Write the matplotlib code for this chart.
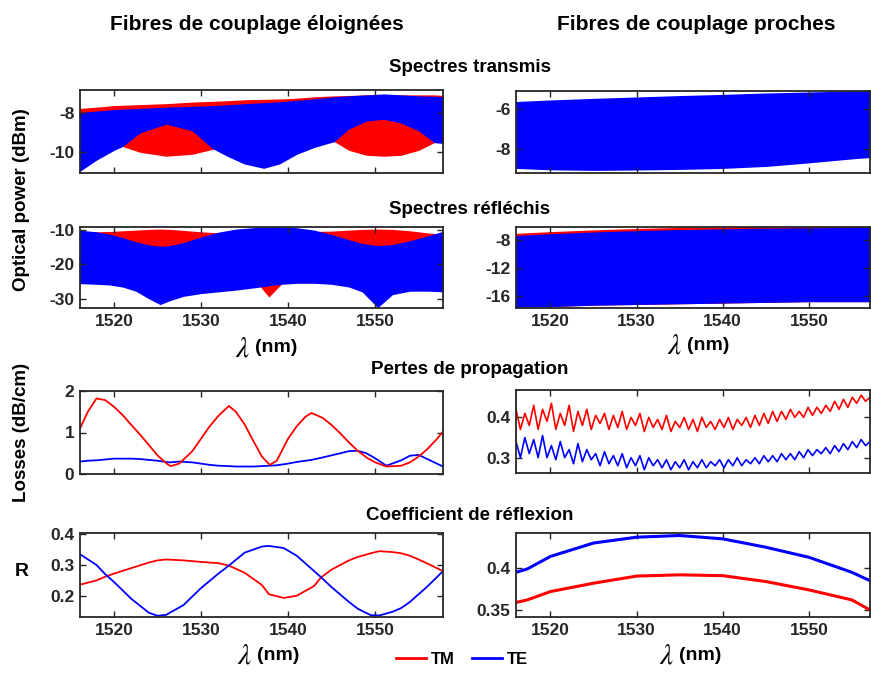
import numpy as np
import matplotlib
matplotlib.use('Agg')
import matplotlib.pyplot as plt
from matplotlib.lines import Line2D
from matplotlib.ticker import FormatStrFormatter

plt.rcParams['font.family'] = ['Liberation Sans', 'DejaVu Sans']
plt.rcParams['mathtext.fontset'] = 'stix'
plt.rcParams['axes.unicode_minus'] = False

RED = '#ff0000'
BLUE = '#0000ff'
DARK = '#262626'

# --- Spectres transmis, fibres eloignees (band envelopes, dBm) ---
wl_tr_far = [1516, 1518, 1520, 1521, 1523, 1526, 1529, 1531.3, 1533, 1535, 1537.2,
             1539, 1541, 1543, 1545.3, 1547, 1549, 1551, 1553, 1555, 1556.8, 1558]
tr_far_tm_hi = [-7.75, -7.68, -7.6, -7.58, -7.55, -7.5, -7.42, -7.38, -7.35, -7.3, -7.28,
                -7.26, -7.22, -7.15, -7.1, -7.08, -7.05, -7.05, -7.05, -7.05, -7.05, -7.08]
tr_far_tm_lo = [-9.6, -9.6, -9.6, -9.7, -10.0, -10.2, -10.1, -9.85, -9.6, -9.6, -9.6,
                -9.6, -9.6, -9.6, -9.45, -9.9, -10.15, -10.2, -10.15, -9.9, -9.5, -9.5]
tr_far_te_hi = [-7.95, -7.88, -7.8, -7.78, -7.74, -7.68, -7.64, -7.6, -7.56, -7.5, -7.45,
                -7.4, -7.33, -7.25, -7.15, -7.1, -7.05, -7.0, -7.05, -7.1, -7.12, -7.15]
tr_far_te_lo = [-11.0, -10.4, -9.9, -9.7, -9.0, -8.55, -8.9, -9.8, -10.2, -10.6, -10.82,
                -10.6, -10.1, -9.75, -9.45, -8.8, -8.4, -8.3, -8.5, -8.9, -9.5, -9.55]

# --- Spectres transmis, fibres proches ---
wl_tr_near = [1516, 1520, 1525, 1530, 1535, 1540, 1545, 1550, 1555, 1557.1]
tr_near_te_hi = [-5.63, -5.55, -5.47, -5.4, -5.33, -5.27, -5.2, -5.15, -5.1, -5.08]
tr_near_te_lo = [-9.0, -9.07, -9.1, -9.08, -9.05, -9.0, -8.9, -8.72, -8.52, -8.45]

# --- Spectres reflechis, fibres eloignees ---
wl_rf_far = [1516, 1518, 1519.5, 1521, 1522.5, 1524, 1525.3, 1526.5, 1528, 1530, 1532, 1534,
             1536.5, 1537.8, 1539.3, 1541, 1543, 1545, 1547, 1548.5, 1550.3, 1552, 1554, 1556, 1558]
rf_far_tm_hi = [-10.6, -10.5, -10.4, -10.2, -10.0, -9.8, -9.7, -9.8, -10.1, -10.5, -10.8, -10.5,
                -10.2, -10.0, -10.0, -10.2, -10.4, -10.3, -10.0, -9.8, -9.7, -9.8, -10.2, -10.8, -11.3]
rf_far_tm_lo = [-24, -24, -24, -24, -24, -24, -24, -24, -24, -24, -24, -24,
                -25.6, -29.5, -25.6, -24, -24, -24, -24, -24, -24, -24, -24, -24, -24]
rf_far_te_hi = [-10.0, -10.5, -11.2, -12.2, -13.4, -14.3, -14.7, -14.5, -13.6, -12.0, -10.6, -9.7,
                -9.2, -9.1, -9.1, -9.3, -10.0, -11.3, -12.8, -13.9, -14.5, -14.2, -13.1, -11.7, -10.2]
rf_far_te_lo = [-25.6, -25.8, -26.0, -26.6, -27.8, -30.0, -31.7, -30.5, -29.3, -28.5, -28.0, -27.5,
                -26.7, -26.2, -25.8, -25.5, -25.5, -25.8, -26.6, -28.0, -32.6, -28.8, -27.8, -27.8, -28.0]

# --- Spectres reflechis, fibres proches ---
wl_rf_near = [1516, 1520, 1525, 1530, 1535, 1540, 1545, 1550, 1557.1]
rf_near_tm_hi = [-7.05, -6.8, -6.55, -6.35, -6.2, -6.1, -6.05, -6.0, -6.0]
rf_near_te_hi = [-7.35, -7.1, -6.85, -6.65, -6.5, -6.4, -6.3, -6.25, -6.2]
rf_near_te_lo = [-17.6, -17.5, -17.3, -17.2, -17.1, -17.0, -16.9, -16.8, -16.8]

# --- Pertes de propagation, fibres eloignees (dB/cm) ---
wl_los_far = [1516.1, 1517, 1518, 1519, 1520, 1521, 1522, 1523, 1524, 1525, 1526, 1526.5, 1527.5,
              1529, 1530, 1531, 1532, 1533.2, 1534, 1535, 1536, 1537, 1537.9, 1538.7, 1540,
              1541, 1542, 1542.7, 1544, 1545, 1546, 1547, 1548, 1549, 1550, 1551.3, 1553,
              1554, 1555, 1556, 1557, 1557.8]
los_far_tm = [1.1, 1.5, 1.82, 1.78, 1.62, 1.42, 1.18, 0.95, 0.7, 0.45, 0.26, 0.19, 0.25,
              0.55, 0.85, 1.15, 1.4, 1.64, 1.5, 1.2, 0.8, 0.42, 0.22, 0.32, 0.85,
              1.15, 1.38, 1.47, 1.35, 1.18, 0.98, 0.76, 0.56, 0.4, 0.28, 0.18, 0.2,
              0.28, 0.42, 0.6, 0.82, 1.02]
los_far_te = [0.3, 0.32, 0.33, 0.35, 0.37, 0.37, 0.37, 0.36, 0.34, 0.32, 0.29, 0.28, 0.3,
              0.28, 0.25, 0.22, 0.2, 0.19, 0.18, 0.18, 0.18, 0.19, 0.2, 0.21, 0.25,
              0.29, 0.32, 0.34, 0.4, 0.45, 0.5, 0.55, 0.56, 0.5, 0.38, 0.2, 0.33,
              0.44, 0.46, 0.36, 0.26, 0.18]

# --- Pertes de propagation, fibres proches (noisy traces) ---
los_near_tm = [0.42, 0.37, 0.41, 0.38, 0.43, 0.37, 0.42, 0.39, 0.435, 0.37,
               0.41, 0.38, 0.43, 0.365, 0.415, 0.38, 0.42, 0.37, 0.405, 0.385,
               0.41, 0.37, 0.405, 0.375, 0.415, 0.37, 0.40, 0.38, 0.41, 0.365,
               0.40, 0.375, 0.395, 0.37, 0.405, 0.365, 0.39, 0.375, 0.40, 0.37,
               0.395, 0.365, 0.40, 0.375, 0.39, 0.37, 0.395, 0.375, 0.40, 0.37,
               0.395, 0.38, 0.40, 0.375, 0.405, 0.38, 0.41, 0.385, 0.415, 0.39,
               0.415, 0.395, 0.42, 0.40, 0.415, 0.40, 0.425, 0.405, 0.425, 0.41,
               0.43, 0.415, 0.44, 0.42, 0.445, 0.425, 0.45, 0.435, 0.455, 0.44, 0.45]
los_near_te = [0.34, 0.30, 0.35, 0.31, 0.345, 0.30, 0.355, 0.30, 0.33, 0.295,
               0.34, 0.30, 0.32, 0.285, 0.335, 0.29, 0.32, 0.295, 0.31, 0.28,
               0.315, 0.285, 0.305, 0.28, 0.31, 0.275, 0.30, 0.28, 0.305, 0.27,
               0.30, 0.28, 0.295, 0.275, 0.295, 0.27, 0.29, 0.275, 0.295, 0.27,
               0.29, 0.275, 0.295, 0.275, 0.29, 0.28, 0.295, 0.275, 0.295, 0.28,
               0.30, 0.28, 0.295, 0.285, 0.30, 0.285, 0.305, 0.29, 0.305, 0.29,
               0.31, 0.295, 0.31, 0.295, 0.315, 0.30, 0.32, 0.305, 0.32, 0.31,
               0.325, 0.31, 0.33, 0.315, 0.335, 0.32, 0.34, 0.325, 0.345, 0.33, 0.34]

# --- Coefficient de reflexion, fibres eloignees ---
wl_r_far = [1516.1, 1518, 1519, 1520, 1522, 1524, 1525, 1526, 1528, 1530, 1532, 1533.2,
            1535, 1537, 1537.8, 1539.5, 1541, 1543, 1543.8, 1545, 1547, 1548, 1549.5,
            1550.5, 1552, 1553, 1554, 1555, 1556, 1557.8]
r_far_tm = [0.236, 0.25, 0.262, 0.272, 0.29, 0.308, 0.315, 0.318, 0.315, 0.31, 0.306, 0.298,
            0.275, 0.235, 0.205, 0.193, 0.2, 0.232, 0.26, 0.285, 0.315, 0.326, 0.338,
            0.345, 0.342, 0.338, 0.33, 0.318, 0.305, 0.28]
r_far_te = [0.335, 0.3, 0.27, 0.245, 0.19, 0.145, 0.135, 0.138, 0.17, 0.225, 0.272, 0.298,
            0.34, 0.36, 0.362, 0.355, 0.33, 0.28, 0.26, 0.228, 0.18, 0.158, 0.137,
            0.136, 0.148, 0.16, 0.18, 0.205, 0.23, 0.28]

# --- Coefficient de reflexion, fibres proches ---
wl_r_near = [1516, 1517.3, 1520, 1525, 1530, 1535, 1540, 1545, 1550, 1555, 1557.1]
r_near_tm = [0.359, 0.362, 0.372, 0.382, 0.3905, 0.392, 0.391, 0.384, 0.374, 0.362, 0.350]
r_near_te = [0.395, 0.399, 0.414, 0.430, 0.437, 0.439, 0.435, 0.425, 0.413, 0.395, 0.385]

W, H = 871, 674
fig = plt.figure(figsize=(W / 100, H / 100), dpi=100)


def px_axes(x0, x1, y0, y1):
    return fig.add_axes([x0 / W, 1 - y1 / H, (x1 - x0) / W, (y1 - y0) / H])


def style(ax, xlim, ylim, yticks, xlabels):
    ax.set_xlim(*xlim)
    ax.set_ylim(*ylim)
    ax.set_xticks([1520, 1530, 1540, 1550])
    ax.set_yticks(yticks)
    ax.yaxis.set_major_formatter(FormatStrFormatter('%g'))
    ax.tick_params(direction='in', top=True, right=True, length=4, width=1,
                   colors=DARK, labelsize=12.5, pad=4)
    if not xlabels:
        ax.set_xticklabels([])
    for lab in ax.get_xticklabels() + ax.get_yticklabels():
        lab.set_fontweight('bold')
    for sp in ax.spines.values():
        sp.set_color(DARK)
        sp.set_linewidth(1.3)


LX = (80, 443)
RX = (516, 870)
XL_L = (1516.1, 1557.8)
XL_R = (1516.0, 1557.1)

# row 1 : transmis
ax = px_axes(*LX, 90, 173)
ax.fill_between(wl_tr_far, tr_far_tm_lo, tr_far_tm_hi, color=RED, lw=0)
ax.fill_between(wl_tr_far, tr_far_te_lo, tr_far_te_hi, color=BLUE, lw=0)
style(ax, XL_L, (-11.06, -6.8), [-10, -8], False)

ax = px_axes(*RX, 91, 173)
ax.fill_between(wl_tr_near, tr_near_te_lo, tr_near_te_hi, color=BLUE, lw=0)
style(ax, XL_R, (-9.23, -5.1), [-8, -6], False)

# row 2 : reflechis
ax = px_axes(*LX, 227, 308)
ax.fill_between(wl_rf_far, rf_far_tm_lo, rf_far_tm_hi, color=RED, lw=0)
ax.fill_between(wl_rf_far, rf_far_te_lo, rf_far_te_hi, color=BLUE, lw=0)
style(ax, XL_L, (-32.7, -9.1), [-30, -20, -10], True)

ax = px_axes(*RX, 227, 308)
ax.fill_between(wl_rf_near, rf_near_te_lo, rf_near_tm_hi, color=RED, lw=0)
ax.fill_between(wl_rf_near, rf_near_te_lo, rf_near_te_hi, color=BLUE, lw=0)
style(ax, XL_R, (-17.7, -6.14), [-16, -12, -8], True)

# row 3 : pertes
ax = px_axes(*LX, 391, 474)
ax.plot(wl_los_far, los_far_te, color=BLUE, lw=1.3)
ax.plot(wl_los_far, los_far_tm, color=RED, lw=1.3)
style(ax, XL_L, (0, 2), [0, 1, 2], False)

ax = px_axes(*RX, 390, 473)
wl_fine = np.linspace(1516.0, 1557.1, len(los_near_tm))
ax.plot(wl_fine, los_near_tm, color=RED, lw=1.2)
ax.plot(wl_fine, los_near_te, color=BLUE, lw=1.2)
style(ax, XL_R, (0.262, 0.468), [0.3, 0.4], False)

# row 4 : coefficient de reflexion
ax = px_axes(*LX, 533, 617)
ax.plot(wl_r_far, r_far_tm, color=RED, lw=1.3)
ax.plot(wl_r_far, r_far_te, color=BLUE, lw=1.3)
style(ax, XL_L, (0.131, 0.404), [0.2, 0.3, 0.4], True)

ax = px_axes(*RX, 533, 617)
ax.plot(wl_r_near, r_near_tm, color=RED, lw=2.2)
ax.plot(wl_r_near, r_near_te, color=BLUE, lw=2.2)
style(ax, XL_R, (0.3416, 0.442), [0.35, 0.4], True)


def ftext(x, y, s, **kw):
    fig.text(x / W, 1 - y / H, s, **kw)


ftext(257, 25, 'Fibres de couplage éloignées', ha='center', va='center',
      fontsize=15, fontweight='bold')
ftext(696, 25, 'Fibres de couplage proches', ha='center', va='center',
      fontsize=15, fontweight='bold')
for y, s in [(67, 'Spectres transmis'), (210, 'Spectres réfléchis'),
             (370, 'Pertes de propagation'), (516, 'Coefficient de réflexion')]:
    ftext(470, y, s, ha='center', va='center', fontsize=13.5, fontweight='bold')

ftext(22, 200, 'Optical power (dBm)', ha='center', va='center', rotation=90,
      fontsize=13.5, fontweight='bold')
ftext(22, 432, 'Losses (dB/cm)', ha='center', va='center', rotation=90,
      fontsize=13.5, fontweight='bold')
ftext(22, 572, 'R', ha='center', va='center', fontsize=14, fontweight='bold')

for xl, y in [(250, 348), (682, 345), (252, 655), (674, 655)]:
    ftext(xl, y + 1, r'$\lambda$', ha='right', va='center', fontsize=21, color='black')
    ftext(xl + 5, y, '(nm)', ha='left', va='center', fontsize=14, fontweight='bold')

handles = [Line2D([], [], color=RED, lw=2), Line2D([], [], color=BLUE, lw=2)]
leg = fig.legend(handles, ['TM', 'TE'], loc='center', ncol=2, frameon=False,
                 bbox_to_anchor=(462 / W, 1 - 659 / H), handlelength=1.8,
                 handletextpad=0.3, columnspacing=1.0,
                 prop={'weight': 'bold', 'size': 12})

fig.savefig('out.png', dpi=100)
